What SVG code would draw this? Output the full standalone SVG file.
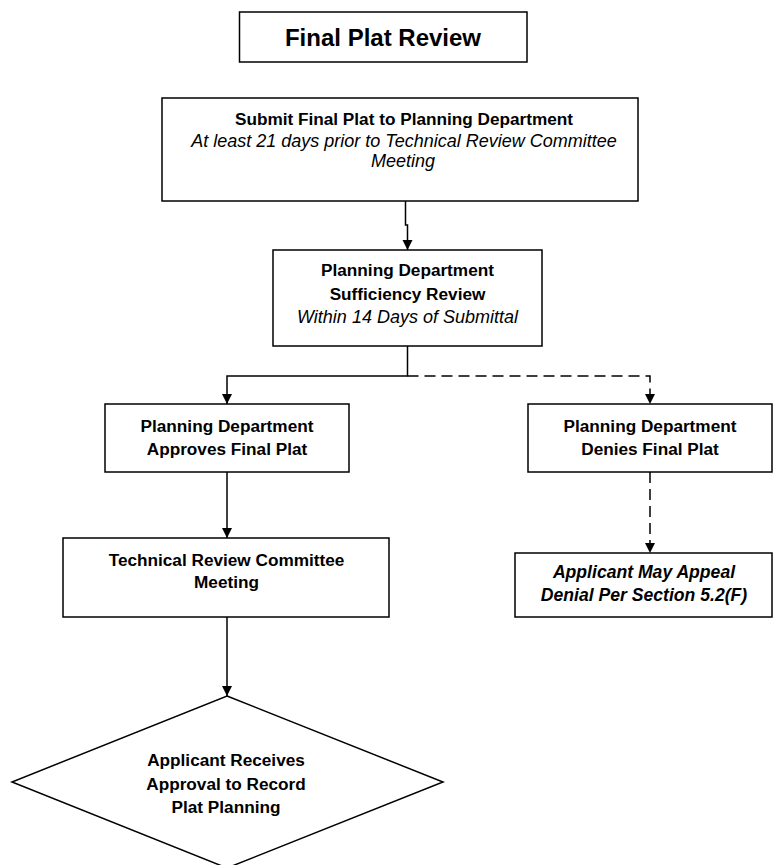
<svg xmlns="http://www.w3.org/2000/svg" width="773" height="865" viewBox="0 0 773 865">
<style>
.box{fill:#fff;stroke:#000;stroke-width:1.5}
.t{font-family:"Liberation Sans",Arial,sans-serif;fill:#000;text-anchor:middle}
.b{font-weight:bold;font-size:17.2px}
.i{font-style:italic;font-size:18px}
.bi{font-weight:bold;font-style:italic;font-size:17.6px}
.ttl{font-weight:bold;font-size:24px}
.c{fill:none;stroke:#000;stroke-width:1.5;marker-end:url(#ah)}
.d{stroke-dasharray:11 6}
</style>
<defs>
<marker id="ah" markerUnits="userSpaceOnUse" markerWidth="11" markerHeight="11" refX="10" refY="5" orient="auto">
<path d="M0,0 L10,5 L0,10 Z" fill="#000"/>
</marker>
</defs>
<rect width="773" height="865" fill="#fff"/>
<g id="title">
<rect class="box" x="239.5" y="12" width="287.5" height="50"/>
<text class="t ttl" x="383" y="45.5">Final Plat Review</text>
</g>
<g id="submit">
<rect class="box" x="162" y="98" width="476" height="103"/>
<text class="t b" x="404" y="125">Submit Final Plat to Planning Department</text>
<text class="t i" x="404" y="146.5">At least 21 days prior to Technical Review Committee</text>
<text class="t i" x="403" y="167">Meeting</text>
</g>
<g id="sufficiency">
<rect class="box" x="273" y="250" width="269" height="96"/>
<text class="t b" x="407.5" y="276">Planning Department</text>
<text class="t b" x="407.5" y="300">Sufficiency Review</text>
<text class="t i" x="407.5" y="323">Within 14 Days of Submittal</text>
</g>
<g id="approves">
<rect class="box" x="105" y="404" width="244" height="68"/>
<text class="t b" x="227" y="431.5">Planning Department</text>
<text class="t b" x="227" y="455">Approves Final Plat</text>
</g>
<g id="denies">
<rect class="box" x="528" y="404" width="244" height="68"/>
<text class="t b" x="650" y="431.5">Planning Department</text>
<text class="t b" x="650" y="455">Denies Final Plat</text>
</g>
<g id="trc">
<rect class="box" x="63" y="538" width="326" height="79"/>
<text class="t b" x="226.5" y="566">Technical Review Committee</text>
<text class="t b" x="226.5" y="588">Meeting</text>
</g>
<g id="appeal">
<rect class="box" x="515" y="553" width="257" height="64"/>
<text class="t bi" x="644" y="577.5">Applicant May Appeal</text>
<text class="t bi" x="644" y="601">Denial Per Section 5.2(F)</text>
</g>
<g id="record">
<polygon class="box" points="227,696 443,782 227,868 12,782"/>
<text class="t b" x="226" y="766">Applicant Receives</text>
<text class="t b" x="226" y="790">Approval to Record</text>
<text class="t b" x="226" y="813">Plat Planning</text>
</g>
<g id="connectors">
<path class="c" d="M405.5,201 V225 H407.5 V250"/>
<path class="c" d="M407.5,346 V376 H227 V404"/>
<path class="c d" d="M407.5,376 H650 V404"/>
<path class="c" d="M227,472 V538"/>
<path class="c d" d="M650,472 V553"/>
<path class="c" d="M227,617 V696"/>
</g>
</svg>
